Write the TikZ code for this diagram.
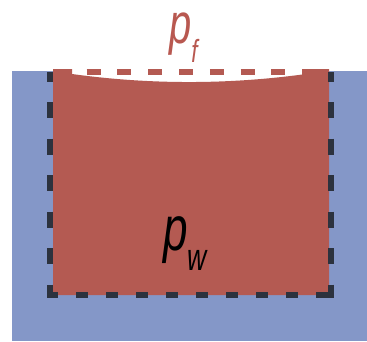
\documentclass[tikz,border=0pt]{standalone}
\usepackage{fontspec}
\setmainfont{Liberation Sans}
\definecolor{bg}{RGB}{132,151,200}
\definecolor{fl}{RGB}{180,90,82}
\definecolor{dk}{RGB}{44,50,62}
\definecolor{tr}{RGB}{184,88,80}
\tikzset{
  vside/.style={dk, line width=6pt, dash pattern=on 16pt off 20.5pt, dash phase=6.5pt},
  hside/.style={dk, line width=6pt, dash pattern=on 12pt off 18pt, dash phase=1pt},
  topside/.style={fl, line width=5.5pt, dash pattern=on 14pt off 16.8pt, dash phase=28pt},
  lbl/.style={anchor=base, inner sep=0pt, font=\itshape}
}
\begin{document}
\begin{tikzpicture}[x=1pt,y=-1pt]
\useasboundingbox (0,0) rectangle (367,341);
% water / background
\fill[bg] (12,71) rectangle (367,341);
\fill[white] (53,71) rectangle (329,88);
% fluid with meniscus
\fill[fl] (53,69) -- (72,69) -- (72,74) .. controls (150,84.7) and (228,84.7) .. (306,74)
  -- (306,69) -- (329,69) -- (329,295) -- (53,295) -- cycle;
% dashed boundary
\draw[vside] (50,72) -- (50,298);
\draw[vside] (331,72) -- (331,298);
\draw[hside] (47,295) -- (334,295);
\draw[topside] (53,72) -- (329,72);
% labels
\node[lbl, text=tr] (pf) at (183.5,43) {\scalebox{0.7}[1]{\fontsize{57}{57}\selectfont\smash{p}\raisebox{-19pt}{\fontsize{32}{32}\selectfont f}}};
\node[lbl, text=black] (pw) at (185,250) {\scalebox{0.7}[1]{\fontsize{63}{63}\selectfont p\raisebox{-20pt}{\fontsize{38}{38}\selectfont w}}};
\end{tikzpicture}
\end{document}
